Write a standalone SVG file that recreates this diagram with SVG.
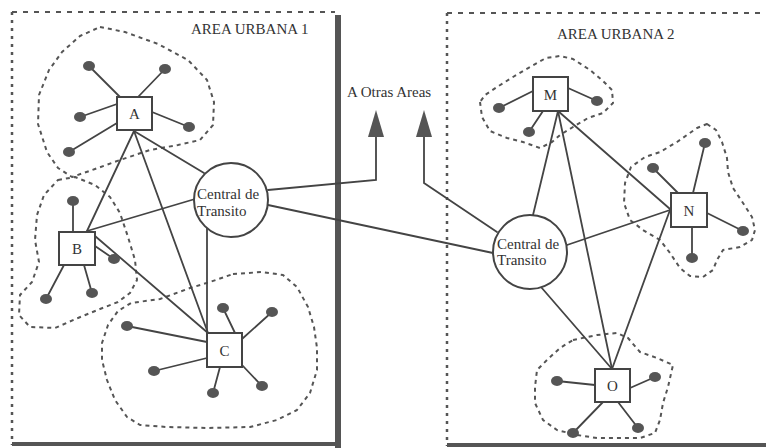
<svg xmlns="http://www.w3.org/2000/svg" width="766" height="448" viewBox="0 0 766 448">
<style>
.ln{stroke:#444;stroke-width:1.8;fill:none;stroke-linecap:round}
.cl{stroke:#555;stroke-width:2;fill:none;stroke-dasharray:4 4;stroke-linejoin:round}
.top{stroke:#555;stroke-width:2;fill:none;stroke-dasharray:5 6}
.side{stroke:#555;stroke-width:2.5;fill:none;stroke-dasharray:3 5}
.thick{stroke:#555;stroke-width:6;fill:none}
.thick2{stroke:#555;stroke-width:4;fill:none}
.sq{fill:#fff;stroke:#444;stroke-width:2}
.ci{fill:#fff;stroke:#444;stroke-width:2}
.dot{fill:#555}
.t{font-family:"Liberation Serif","Times New Roman",serif;fill:#333;font-size:15px}
.lt{font-family:"Liberation Serif","Times New Roman",serif;fill:#333;font-size:15px;text-anchor:middle}
</style>
<rect width="766" height="448" fill="#fff"/>
<g id="areas">
<line class="top" x1="12" y1="12" x2="335" y2="12"/>
<line class="side" x1="12" y1="12" x2="12" y2="445"/>
<line class="thick" x1="338" y1="15" x2="338" y2="448"/>
<line class="thick2" x1="12" y1="444" x2="340" y2="444"/>
<line class="top" x1="447" y1="13" x2="766" y2="13"/>
<line class="side" x1="447" y1="13" x2="447" y2="446"/>
<line class="thick2" x1="447" y1="445" x2="766" y2="445"/>
<text class="t" x="191" y="34">AREA URBANA 1</text>
<text class="t" x="557" y="39">AREA URBANA 2</text>
<text class="t" x="347" y="97">A Otras Areas</text>
</g>
<g id="clusters">
<polygon class="cl" points="100,27 125,32 158,44 188,60 207,80 214,102 213,125 200,140 178,145 150,150 120,160 95,169 72,177 58,168 47,152 38,124 39,95 49,70 62,52 80,36"/>
<polygon class="cl" points="58,180 75,177 95,185 110,197 120,213 128,237 135,260 137,280 130,293 118,302 100,309 78,318 55,328 30,327 19,315 20,295 32,282 39,262 35,240 37,215 44,195"/>
<polygon class="cl" points="233,274 262,272 283,275 297,287 308,307 314,327 317,348 317,370 310,393 297,410 277,420 250,427 207,428 167,427 140,425 127,417 115,400 107,380 102,360 102,343 108,325 118,311 131,303 160,299 190,288 210,282"/>
<polygon class="cl" points="480,102 482,117 490,131 507,138 523,142 540,148 552,142 560,135 573,127 588,118 603,113 613,103 612,90 603,81 590,70 573,59 560,56 546,58 530,67 513,77 497,87 485,95"/>
<polygon class="cl" points="707,124 716,130 722,142 727,158 728,172 733,188 743,203 752,217 755,230 752,240 740,247 723,250 717,260 713,270 703,277 690,276 680,268 670,253 660,240 643,230 630,220 624,203 625,183 631,167 645,157 660,152 677,142 697,128"/>
<polygon class="cl" points="573,340 597,335 617,333 628,338 640,352 657,358 673,365 668,387 663,403 660,420 655,433 640,438 620,438 597,438 577,435 557,430 543,420 535,403 535,387 537,370 547,360 560,348"/>
</g>
<g id="connectors">
<line class="ln" x1="134" y1="131" x2="87" y2="231"/>
<line class="ln" x1="134" y1="131" x2="208" y2="333"/>
<line class="ln" x1="134" y1="131" x2="204" y2="173"/>
<line class="ln" x1="87" y1="231" x2="195" y2="199"/>
<line class="ln" x1="95" y1="236" x2="208" y2="333"/>
<line class="ln" x1="207" y1="228" x2="207" y2="333"/>
<polyline class="ln" points="268,190 376,180 376,136"/>
<line class="ln" x1="268" y1="205" x2="493" y2="253"/>
<polyline class="ln" points="424,136 424,183 497,232"/>
<line class="ln" x1="558" y1="111" x2="533" y2="215"/>
<line class="ln" x1="558" y1="111" x2="612" y2="369"/>
<line class="ln" x1="558" y1="111" x2="670" y2="209"/>
<line class="ln" x1="567" y1="245" x2="670" y2="210"/>
<line class="ln" x1="541" y1="287" x2="612" y2="369"/>
<line class="ln" x1="670" y1="210" x2="612" y2="369"/>
<line class="ln" x1="89" y1="66" x2="120" y2="97"/>
<line class="ln" x1="165" y1="69" x2="138" y2="97"/>
<line class="ln" x1="80" y1="117" x2="117" y2="104"/>
<line class="ln" x1="189" y1="127" x2="152" y2="112"/>
<line class="ln" x1="69" y1="152" x2="117" y2="123"/>
<line class="ln" x1="73" y1="201" x2="73" y2="232"/>
<line class="ln" x1="114" y1="259" x2="95" y2="246"/>
<line class="ln" x1="46" y1="299" x2="64" y2="265"/>
<line class="ln" x1="92" y1="293" x2="84" y2="265"/>
<line class="ln" x1="127" y1="326" x2="207" y2="342"/>
<line class="ln" x1="154" y1="371" x2="207" y2="358"/>
<line class="ln" x1="223" y1="308" x2="235" y2="333"/>
<line class="ln" x1="272" y1="312" x2="242" y2="339"/>
<line class="ln" x1="262" y1="386" x2="242" y2="365"/>
<line class="ln" x1="213" y1="393" x2="220" y2="367"/>
<line class="ln" x1="499" y1="108" x2="533" y2="91"/>
<line class="ln" x1="597" y1="101" x2="568" y2="88"/>
<line class="ln" x1="529" y1="132" x2="543" y2="111"/>
<line class="ln" x1="653" y1="168" x2="678" y2="193"/>
<line class="ln" x1="705" y1="143" x2="693" y2="193"/>
<line class="ln" x1="743" y1="231" x2="707" y2="213"/>
<line class="ln" x1="692" y1="258" x2="692" y2="227"/>
<line class="ln" x1="557" y1="381" x2="595" y2="385"/>
<line class="ln" x1="655" y1="377" x2="630" y2="388"/>
<line class="ln" x1="573" y1="433" x2="603" y2="402"/>
<line class="ln" x1="638" y1="428" x2="618" y2="402"/>
<polygon class="dot" points="376,110 368,137 384,137"/>
<polygon class="dot" points="424,110 416,137 432,137"/>
</g>
<g id="terminals">
<ellipse class="dot" cx="89" cy="66" rx="6" ry="5"/>
<ellipse class="dot" cx="165" cy="69" rx="6" ry="5"/>
<ellipse class="dot" cx="80" cy="117" rx="6" ry="5"/>
<ellipse class="dot" cx="189" cy="127" rx="6" ry="5"/>
<ellipse class="dot" cx="69" cy="152" rx="6" ry="5"/>
<ellipse class="dot" cx="73" cy="201" rx="6" ry="5"/>
<ellipse class="dot" cx="114" cy="259" rx="6" ry="5"/>
<ellipse class="dot" cx="46" cy="299" rx="6" ry="5"/>
<ellipse class="dot" cx="92" cy="293" rx="6" ry="5"/>
<ellipse class="dot" cx="127" cy="326" rx="6" ry="5"/>
<ellipse class="dot" cx="154" cy="371" rx="6" ry="5"/>
<ellipse class="dot" cx="223" cy="308" rx="6" ry="5"/>
<ellipse class="dot" cx="272" cy="312" rx="6" ry="5"/>
<ellipse class="dot" cx="262" cy="386" rx="6" ry="5"/>
<ellipse class="dot" cx="213" cy="393" rx="6" ry="5"/>
<ellipse class="dot" cx="499" cy="108" rx="6" ry="5"/>
<ellipse class="dot" cx="597" cy="101" rx="6" ry="5"/>
<ellipse class="dot" cx="529" cy="132" rx="6" ry="5"/>
<ellipse class="dot" cx="653" cy="168" rx="6" ry="5"/>
<ellipse class="dot" cx="705" cy="143" rx="6" ry="5"/>
<ellipse class="dot" cx="743" cy="231" rx="6" ry="5"/>
<ellipse class="dot" cx="692" cy="258" rx="6" ry="5"/>
<ellipse class="dot" cx="557" cy="381" rx="6" ry="5"/>
<ellipse class="dot" cx="655" cy="377" rx="6" ry="5"/>
<ellipse class="dot" cx="573" cy="433" rx="6" ry="5"/>
<ellipse class="dot" cx="638" cy="428" rx="6" ry="5"/>
</g>
<g id="node-A"><rect class="sq" x="117" y="97" width="35" height="33"/><text class="lt" x="134.5" y="119">A</text></g>
<g id="node-B"><rect class="sq" x="59" y="232" width="36" height="33"/><text class="lt" x="77" y="254">B</text></g>
<g id="node-C"><rect class="sq" x="207" y="333" width="35" height="34"/><text class="lt" x="224.5" y="356">C</text></g>
<g id="node-M"><rect class="sq" x="533" y="77" width="35" height="34"/><text class="lt" x="550.5" y="100">M</text></g>
<g id="node-N"><rect class="sq" x="671" y="193" width="36" height="34"/><text class="lt" x="689" y="216">N</text></g>
<g id="node-O"><rect class="sq" x="595" y="369" width="35" height="33"/><text class="lt" x="612.5" y="391">O</text></g>
<g id="central-1"><circle class="ci" cx="231" cy="200" r="37"/><text class="t" x="197" y="199">Central de</text><text class="t" x="197" y="216">Transito</text></g>
<g id="central-2"><circle class="ci" cx="530" cy="252" r="37"/><text class="t" x="497" y="249">Central de</text><text class="t" x="497" y="265">Transito</text></g>
</svg>
